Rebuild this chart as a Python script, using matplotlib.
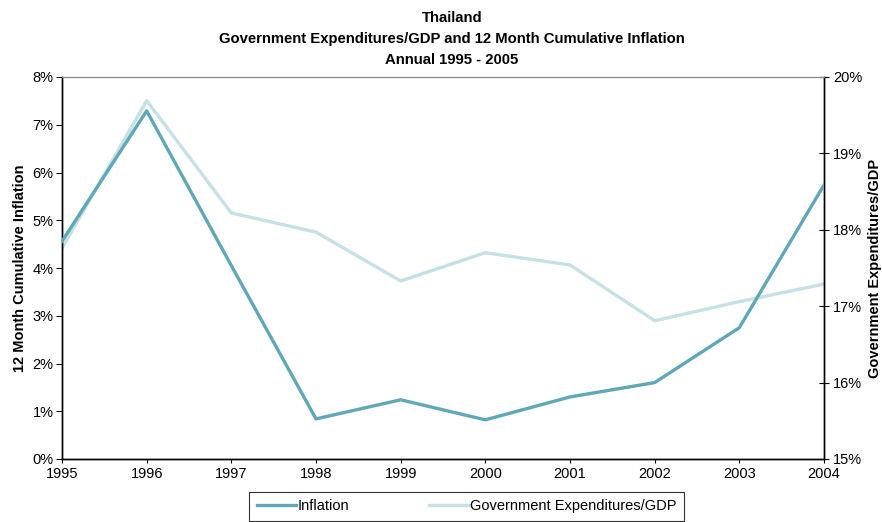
import matplotlib
matplotlib.use("Agg")
import matplotlib.pyplot as plt
from matplotlib.ticker import FuncFormatter

plt.rcParams['font.family'] = ['Liberation Sans', 'DejaVu Sans']

years = [1995, 1996, 1997, 1998, 1999, 2000, 2001, 2002, 2003, 2004]
inflation = [4.56, 7.29, 4.05, 0.84, 1.24, 0.82, 1.30, 1.60, 2.75, 5.74]
gov_exp_gdp = [17.76, 19.69, 18.22, 17.97, 17.33, 17.70, 17.54, 16.81, 17.06, 17.29]

infl_color = "#5fa8b8"
gov_color = "#c5e0e6"

fig = plt.figure(figsize=(8.82, 5.22), dpi=100)
ax = fig.add_axes([62/882, 1 - 459/522, (824 - 62)/882, (459 - 77)/522])
ax2 = ax.twinx()

l1, = ax.plot(years, inflation, color=infl_color, lw=2.4, label="Inflation", zorder=3)
l2, = ax2.plot(years, gov_exp_gdp, color=gov_color, lw=2.4, label="Government Expenditures/GDP")
ax.set_zorder(ax2.get_zorder() + 1)
ax.patch.set_visible(False)

ax.set_xlim(1995, 2004)
ax.set_ylim(0, 8)
ax2.set_ylim(15, 20)
ax.set_xticks(years)
ax.set_yticks(range(0, 9))
ax2.set_yticks(range(15, 21))
pct = FuncFormatter(lambda v, p: f"{v:.0f}%")
ax.yaxis.set_major_formatter(pct)
ax2.yaxis.set_major_formatter(pct)

for a in (ax, ax2):
    a.spines['top'].set_color("#888888")
    a.spines['top'].set_linewidth(0.8)
    a.spines['left'].set_linewidth(1.0)
    a.spines['right'].set_linewidth(1.0)
    a.spines['bottom'].set_linewidth(1.0)
ax.tick_params(axis='y', direction='out', length=4, labelsize=10.5, pad=2)
ax.tick_params(axis='x', direction='out', length=3, labelsize=10.5, pad=3)
ax2.tick_params(axis='y', direction='inout', length=7, labelsize=10.5, pad=3)

ax.set_ylabel("12 Month Cumulative Inflation", fontsize=10.5, fontweight='bold', labelpad=4)
ax2.set_ylabel("Government Expenditures/GDP", fontsize=10.5, fontweight='bold', labelpad=4)

fig.text(452/882, 1 - 11/522, "Thailand\nGovernment Expenditures/GDP and 12 Month Cumulative Inflation\nAnnual 1995 - 2005",
         ha='center', va='top', fontsize=10.7, fontweight='bold', linespacing=1.62)

leg = fig.legend([l1, l2], ["Inflation", "Government Expenditures/GDP"], loc='upper center',
                 bbox_to_anchor=(0.529, 1 - 492/522), ncol=2, frameon=True, fancybox=False,
                 edgecolor='black', fontsize=10.5, handlelength=2.7, handletextpad=0.1,
                 columnspacing=5.5, borderpad=0.5, borderaxespad=0)
leg.get_frame().set_linewidth(0.8)

fig.savefig("out.png", dpi=100)
